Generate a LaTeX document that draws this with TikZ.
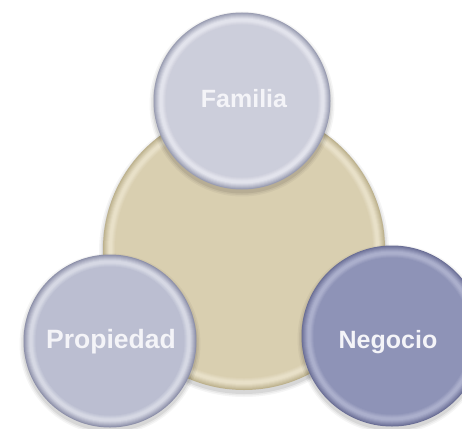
\documentclass[tikz,border=0pt]{standalone}
\usepackage{fontspec}
\setmainfont{Liberation Sans}
\definecolor{cenEdge}{HTML}{BDB28E}
\definecolor{cenRing}{HTML}{E8E0C8}
\definecolor{cenFace}{HTML}{D9CFB0}
\definecolor{famEdge}{HTML}{9A9DB2}
\definecolor{famRing}{HTML}{E2E3EC}
\definecolor{famFace}{HTML}{CCCEDB}
\definecolor{proEdge}{HTML}{8E91AA}
\definecolor{proRing}{HTML}{D6D8E4}
\definecolor{proFace}{HTML}{BBBED1}
\definecolor{negEdge}{HTML}{6B6F96}
\definecolor{negRing}{HTML}{ABAFCC}
\definecolor{negFace}{HTML}{8E93B7}
\definecolor{lblWhite}{HTML}{F4F4F8}
\newcommand\softshadow[3]{%
  \foreach \dd/\oo in {4/0.04,2.5/0.05,1/0.07}{%
    \fill[black,opacity=\oo] (#1,#2+3) circle [radius=#3pt+\dd pt];}}
% #1 node name, #2 radius, #3 prefix of colours
\newcommand\bevel[3]{%
  \foreach \dr/\mx in {1/80,2/62,3/45,4/28,5/12,6/0}{%
    \fill[#3Edge!\mx!#3Ring] (#1.center) circle [radius=#2pt-\dr pt];}
  \foreach \dr/\mx in {9/75,10/50,11/25,12/0}{%
    \fill[#3Ring!\mx!#3Face] (#1.center) circle [radius=#2pt-\dr pt];}}
\begin{document}
\begin{tikzpicture}[x=1pt,y=-1pt,
  ballstyle/.style={circle, inner sep=0pt, outer sep=0pt},
  lbl/.style={text=lblWhite, font=\bfseries\fontsize{25}{30}\selectfont, inner sep=0pt, anchor=base}]
\useasboundingbox (0,0) rectangle (462,428);
\clip (0,0) rectangle (462,428);
\fill[white] (0,0) rectangle (462,428);
% centre
\softshadow{244}{249}{141}
\node[ballstyle, minimum size=282pt, fill=cenEdge] (centre) at (244,249) {};
\bevel{centre}{141}{cen}
% Familia
\softshadow{242}{101}{88.5}
\node[ballstyle, minimum size=177pt, fill=famEdge] (familia) at (242,101) {};
\bevel{familia}{88.5}{fam}
\node[lbl] (familiaT) at (244,107) {Familia};
% Propiedad
\softshadow{110}{341}{86.5}
\node[ballstyle, minimum size=173pt, fill=proEdge] (propiedad) at (110,341) {};
\bevel{propiedad}{86.5}{pro}
\node[lbl, font=\bfseries\fontsize{26.5}{30}\selectfont] (propiedadT) at (111,348) {Propiedad};
% Negocio
\softshadow{392}{336}{90.5}
\node[ballstyle, minimum size=181pt, fill=negEdge] (negocio) at (392,336) {};
\bevel{negocio}{90.5}{neg}
\node[lbl] (negocioT) at (388,348) {Negocio};
\end{tikzpicture}
\end{document}
